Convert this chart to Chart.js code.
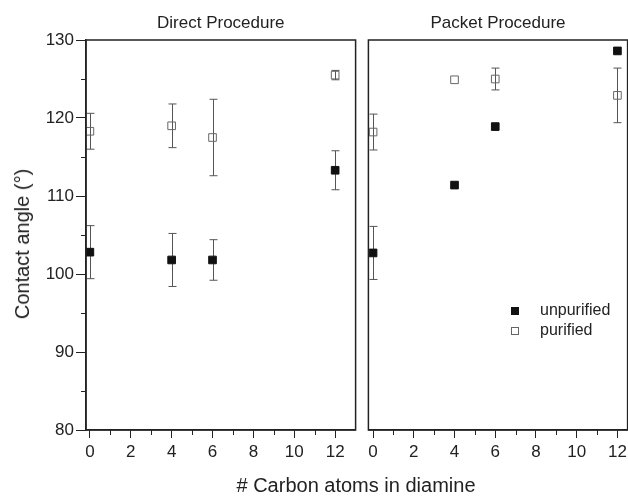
<!DOCTYPE html>
<html>
<head>
<meta charset="utf-8">
<script src="https://cdn.jsdelivr.net/npm/chart.js@4.4.0/dist/chart.umd.min.js"></script>
<style>
body { margin: 0; background: #fff; font-family: "Liberation Sans", Arial, sans-serif; color: #222; }
#wrap { position: relative; width: 628px; height: 496px; overflow: hidden; }
canvas { position: absolute; top: 0; }
#xtitle { position: absolute; left: 0; width: 712px; top: 475px; text-align: center; font-size: 20px; line-height: 20px; white-space: nowrap; }
#ytitle { position: absolute; left: 22px; top: 244px; font-size: 20px; line-height: 20px; white-space: nowrap;
  transform: translate(-50%, -50%) rotate(-90deg); }
.leg { position: absolute; left: 540px; font-size: 16px; line-height: 16px; }
.mk { position: absolute; width: 8px; height: 8px; box-sizing: border-box; }
</style>
</head>
<body>
<div id="wrap">
  <canvas id="direct" width="362" height="496" style="left:0"></canvas>
  <canvas id="packet" width="272" height="496" style="left:362px"></canvas>
  <div id="xtitle"># Carbon atoms in diamine</div>
  <div id="ytitle">Contact angle (°)</div>
  <div class="mk" style="left:511px; top:307px; background:#111;"></div>
  <div class="leg" style="top:302px;">unpurified</div>
  <div class="mk" style="left:511px; top:327px; border:1px solid #666;"></div>
  <div class="leg" style="top:322px;">purified</div>
</div>
<script>
// nombre d'atomes de carbone
const carbons = [0, 4, 6, 12];
const xTicks = [0, 2, 4, 6, 8, 10, 12];
const yTicks = [80, 90, 100, 110, 120, 130];

// Procédure directe
const directUnpurified = [102.8, 101.8, 101.8, 113.3];
const directUnpurifiedErr = [3.4, 3.4, 2.6, 2.5];
const directPurified = [118.3, 119.0, 117.5, 125.5];
const directPurifiedErr = [2.3, 2.8, 4.9, 0.6];

// Procédure "packet"
const packetUnpurified = [102.7, 111.4, 118.9, 128.6];
const packetUnpurifiedErr = [3.4, 0, 0, 0];
const packetPurified = [118.2, 124.9, 125.0, 122.9];
const packetPurifiedErr = [2.3, 0, 1.4, 3.5];

const ink = '#222';

function pts(ys) {
  return carbons.map((c, i) => ({ x: c, y: ys[i] }));
}

// barres d'erreur, dessinées avant les points
const errorBars = {
  id: 'errorBars',
  beforeDatasetsDraw(chart) {
    const ctx = chart.ctx;
    const xs = chart.scales.x, ys = chart.scales.y;
    ctx.save();
    ctx.strokeStyle = '#555';
    ctx.lineWidth = 1;
    chart.data.datasets.forEach(ds => {
      ds.data.forEach((p, i) => {
        const e = ds.errors[i];
        if (!e) return;
        const px = Math.round(xs.getPixelForValue(p.x)) + 0.5;
        const top = ys.getPixelForValue(p.y + e);
        const bot = ys.getPixelForValue(p.y - e);
        ctx.beginPath();
        ctx.moveTo(px, top); ctx.lineTo(px, bot);
        ctx.moveTo(px - 4, top); ctx.lineTo(px + 4, top);
        ctx.moveTo(px - 4, bot); ctx.lineTo(px + 4, bot);
        ctx.stroke();
      });
    });
    ctx.restore();
  }
};

// cadre, petites graduations et titre du panneau
const frame = {
  id: 'frame',
  afterDraw(chart, args, opts) {
    const ctx = chart.ctx;
    const a = chart.chartArea;
    const xs = chart.scales.x, ys = chart.scales.y;
    ctx.save();
    ctx.strokeStyle = ink;
    ctx.lineWidth = 1.5;
    ctx.strokeRect(a.left, a.top, a.right - a.left, a.bottom - a.top);
    ctx.lineWidth = 1;
    ctx.beginPath();
    for (let v = 1; v <= 11; v += 2) {
      const px = Math.round(xs.getPixelForValue(v)) + 0.5;
      ctx.moveTo(px, a.bottom); ctx.lineTo(px, a.bottom + 5);
    }
    if (ys.options.display) {
      for (let v = 85; v < 130; v += 10) {
        const py = Math.round(ys.getPixelForValue(v)) + 0.5;
        ctx.moveTo(a.left, py); ctx.lineTo(a.left - 5, py);
      }
    }
    ctx.stroke();
    ctx.fillStyle = ink;
    ctx.font = '17px "Liberation Sans", Arial, sans-serif';
    ctx.textAlign = 'center';
    ctx.textBaseline = 'middle';
    ctx.fillText(opts.text, (a.left + a.right) / 2, 23);
    ctx.restore();
  }
};

function makeChart(id, title, unp, unpErr, pur, purErr, showY, pad, xMin, xMax) {
  return new Chart(document.getElementById(id), {
    type: 'scatter',
    data: {
      datasets: [
        {
          label: 'unpurified',
          data: pts(unp),
          errors: unpErr,
          pointStyle: 'rect',
          pointRadius: 5.4,
          backgroundColor: '#111',
          borderColor: '#111',
          borderWidth: 1
        },
        {
          label: 'purified',
          data: pts(pur),
          errors: purErr,
          pointStyle: 'rect',
          pointRadius: 5.4,
          backgroundColor: 'rgba(0,0,0,0)',
          borderColor: '#666',
          borderWidth: 1
        }
      ]
    },
    options: {
      responsive: false,
      animation: false,
      layout: { padding: pad },
      plugins: {
        legend: { display: false },
        tooltip: { enabled: false },
        frame: { text: title }
      },
      scales: {
        x: {
          type: 'linear',
          min: xMin,
          max: xMax,
          afterBuildTicks: s => { s.ticks = xTicks.map(v => ({ value: v })); },
          afterFit: s => { s.height = 66; },
          ticks: { font: { size: 17 }, color: ink, padding: 4, maxRotation: 0 },
          grid: { drawOnChartArea: false, tickLength: 8, color: ink, tickWidth: 1 },
          border: { color: ink, width: 1.5 }
        },
        y: {
          type: 'linear',
          display: showY,
          min: 80,
          max: 130,
          afterBuildTicks: s => { s.ticks = yTicks.map(v => ({ value: v })); },
          afterFit: s => { s.width = showY ? 86 : 0; },
          ticks: { font: { size: 17 }, color: ink, padding: 2 },
          grid: { drawOnChartArea: false, tickLength: 10, color: ink, tickWidth: 1 },
          border: { color: ink, width: 1.5 }
        }
      }
    },
    plugins: [errorBars, frame]
  });
}

makeChart('direct', 'Direct Procedure', directUnpurified, directUnpurifiedErr,
  directPurified, directPurifiedErr, true, { left: 0, right: 5, top: 40, bottom: 0 }, -0.19, 13.0);
makeChart('packet', 'Packet Procedure', packetUnpurified, packetUnpurifiedErr,
  packetPurified, packetPurifiedErr, false, { left: 5, right: 4, top: 40, bottom: 0 }, -0.23, 12.5);
</script>
</body>
</html>
